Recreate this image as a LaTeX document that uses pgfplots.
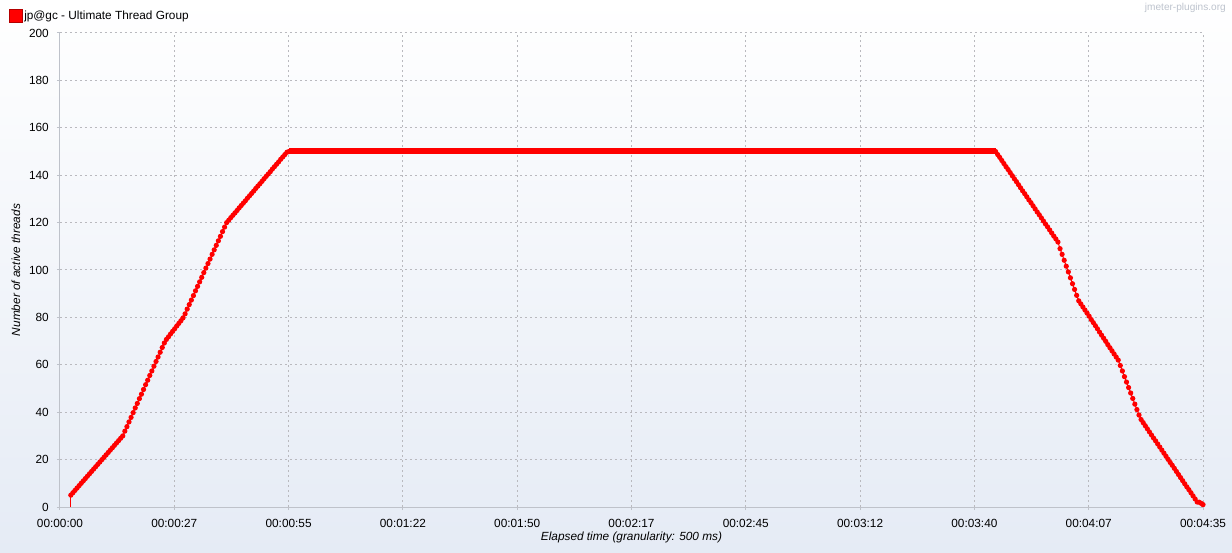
\documentclass[border=0pt]{standalone}
\usepackage{fontspec}
\setmainfont{Liberation Sans}
\usepackage{pgfplots}
\pgfplotsset{compat=1.18}
\definecolor{axgray}{RGB}{190,194,202}
\definecolor{gridgray}{RGB}{185,185,190}
\definecolor{bgbottom}{RGB}{229,235,245}
\definecolor{wmark}{RGB}{190,196,206}
\definecolor{darkred}{RGB}{180,0,0}
\begin{document}
\begin{tikzpicture}
\shade[top color=white, bottom color=bgbottom] (-45bp,-34.5bp) rectangle (879bp,380.25bp);
\begin{axis}[
  scale only axis,
  width=857.25bp, height=355.5bp,
  xmin=0, xmax=275, ymin=0, ymax=200,
  clip=false,
  axis lines*=left,
  axis line style={-, draw=axgray, line width=0.75bp},
  tick align=outside,
  major tick length=2.25bp,
  tick style={draw=axgray, line width=0.75bp},
  xtick pos=left, ytick pos=left,
  xtick={0,27.5,55,82.5,110,137.5,165,192.5,220,247.5,275},
  xticklabels={00:00:00,00:00:27,00:00:55,00:01:22,00:01:50,00:02:17,00:02:45,00:03:12,00:03:40,00:04:07,00:04:35},
  ytick={0,20,40,60,80,100,120,140,160,180,200},
  yticklabels={0,20,40,60,80,100,120,140,160,180,200},
  grid=major,
  major grid style={draw=gridgray, line width=0.75bp, dash pattern=on 1.5bp off 2.25bp},
  ticklabel style={font=\fontsize{8.9pt}{10pt}\selectfont, text=black, inner sep=0pt},
  xticklabel style={anchor=center, yshift=-9.75bp},
  yticklabel style={anchor=east, xshift=-6bp},
  xlabel={Elapsed time (granularity: 500 ms)},
  ylabel={Number of active threads},
  label style={font=\fontsize{8.9pt}{10pt}\selectfont\itshape, inner sep=0pt},
  xlabel style={at={(axis description cs:0.5,-0.0633)}, anchor=center},
  ylabel style={at={(axis description cs:-0.0385,0.5)}, anchor=center, rotate=0},
]
\addplot[red, line width=4.5bp, no marks] coordinates {(55.1,150) (225.1,150)};
\addplot[red, line width=0.75bp, no marks] coordinates {(2.6,0) (2.6,5)};
\addplot[red, line width=0.75bp, mark=*, mark size=1.55bp, mark options={fill=red, draw=red}] coordinates {
(2.6,5) (3.1,6) (3.6,7) (4.1,8) (4.6,9) (5.1,10) (5.6,11) (6.1,12) (6.6,13) (7.1,14)
(7.6,15) (8.1,16) (8.6,17) (9.1,18) (9.6,19) (10.1,20) (10.6,21) (11.1,22) (11.6,23) (12.1,24)
(12.6,25) (13.1,26) (13.6,27) (14.1,28) (14.6,29) (15.1,30)
(15.6,32) (16.1,33.9) (16.6,35.9) (17.1,37.8) (17.6,39.8) (18.1,41.8) (18.6,43.7) (19.1,45.7)
(19.6,47.6) (20.1,49.6) (20.6,51.6) (21.1,53.5) (21.6,55.5) (22.1,57.4) (22.6,59.4) (23.1,61.4)
(23.6,63.3) (24.1,65.3) (24.6,67.3) (25.1,69.2)
(25.6,70.7) (26.1,71.8) (26.6,73.0) (27.1,74.1) (27.6,75.2) (28.1,76.4) (28.6,77.5) (29.1,78.6) (29.6,79.8)
(30.1,81.5) (30.6,83.5) (31.1,85.4) (31.6,87.3) (32.1,89.2) (32.6,91.2) (33.1,93.1) (33.6,95.0)
(34.1,96.9) (34.6,98.9) (35.1,100.8) (35.6,102.7) (36.1,104.6) (36.6,106.6) (37.1,108.5) (37.6,110.4)
(38.1,112.3) (38.6,114.2) (39.1,116.2) (39.6,118.1) (40.1,120)
(40.6,121.0) (41.1,122.1) (41.6,123.1) (42.1,124.1) (42.6,125.1) (43.1,126.2) (43.6,127.2) (44.1,128.2)
(44.6,129.2) (45.1,130.3) (45.6,131.3) (46.1,132.3) (46.6,133.3) (47.1,134.4) (47.6,135.4) (48.1,136.4)
(48.6,137.4) (49.1,138.5) (49.6,139.5) (50.1,140.5) (50.6,141.5) (51.1,142.6) (51.6,143.6) (52.1,144.6)
(52.6,145.6) (53.1,146.7) (53.6,147.7) (54.1,148.7) (54.6,149.7) (55.1,150)
(225.1,150)
(225.6,148.7) (226.1,147.5) (226.6,146.2) (227.1,144.9) (227.6,143.6) (228.1,142.4) (228.6,141.1)
(229.1,139.8) (229.6,138.5) (230.1,137.3) (230.6,136.0) (231.1,134.7) (231.6,133.4) (232.1,132.2)
(232.6,130.9) (233.1,129.6) (233.6,128.4) (234.1,127.1) (234.6,125.8) (235.1,124.5) (235.6,123.3)
(236.1,122.0) (236.6,120.7) (237.1,119.4) (237.6,118.2) (238.1,116.9) (238.6,115.6) (239.1,114.3)
(239.6,113.1) (240.1,111.8)
(240.6,109.0) (241.1,106.6) (241.6,104.1) (242.1,101.6) (242.6,99.2) (243.1,96.7) (243.6,94.2)
(244.1,91.8) (244.6,89.3) (245.1,87.0)
(245.6,85.7) (246.1,84.4) (246.6,83.1) (247.1,81.8) (247.6,80.5) (248.1,79.1) (248.6,77.8) (249.1,76.5)
(249.6,75.2) (250.1,73.8) (250.6,72.5) (251.1,71.2) (251.6,69.9) (252.1,68.5) (252.6,67.2) (253.1,65.9)
(253.6,64.6) (254.1,63.3) (254.6,62.0)
(255.1,59.7) (255.6,57.4) (256.1,55.0) (256.6,52.7) (257.1,50.4) (257.6,48.1) (258.1,45.8) (258.6,43.4)
(259.1,41.1) (259.6,38.8) (260.1,36.9)
(260.6,35.6) (261.1,34.3) (261.6,33.0) (262.1,31.7) (262.6,30.4) (263.1,29.1) (263.6,27.9) (264.1,26.6)
(264.6,25.3) (265.1,24.0) (265.6,22.7) (266.1,21.4) (266.6,20.1) (267.1,18.8) (267.6,17.6) (268.1,16.3)
(268.6,15.0) (269.1,13.7) (269.6,12.4) (270.1,11.1) (270.6,9.8) (271.1,8.5) (271.6,7.3) (272.1,6.0)
(272.6,4.7) (273.1,3.4) (273.6,2.1) (274.1,2) (274.6,1.5) (275,1)
};
\end{axis}
\fill[red, draw=darkred, line width=0.5bp] (-38.25bp,363.75bp) rectangle (-28.5bp,373.5bp);
\node[anchor=west, inner sep=0pt, font=\fontsize{8.9pt}{10pt}\selectfont] at (-27bp,368.25bp) {jp@gc - Ultimate Thread Group};
\node[anchor=east, inner sep=0pt, text=wmark, font=\fontsize{7.6pt}{9pt}\selectfont] at (874.5bp,374.25bp) {jmeter-plugins.org};
\pgfresetboundingbox
\path (-45bp,-34.5bp) rectangle (879bp,380.25bp);
\end{tikzpicture}
\end{document}
